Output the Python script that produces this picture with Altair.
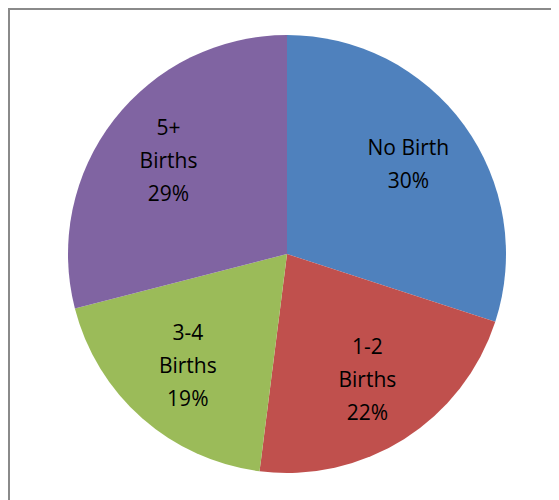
import altair as alt
import pandas as pd

categories = ["No Birth", "1-2 Births", "3-4 Births", "5+ Births"]
percents = [30, 22, 19, 29]
label_lines = [["No Birth", "30%"], ["1-2", "Births", "22%"], ["3-4", "Births", "19%"], ["5+", "Births", "29%"]]
colors = ["#4F81BD", "#C0504D", "#9BBB59", "#8064A2"]

df = pd.DataFrame({
    "category": categories,
    "value": percents,
    "order": list(range(len(categories))),
    "label": ["\n".join(l) for l in label_lines],
    "nlines": [len(l) for l in label_lines],
})
total = sum(percents)

W, H = 543, 492
CX, CY = 279, 246
R = 219
LH = 33

pie = alt.Chart(df).mark_arc(stroke=None).encode(
    theta=alt.Theta("value:Q", stack=True),
    order=alt.Order("order:Q"),
    color=alt.Color("category:N", scale=alt.Scale(domain=categories, range=colors), legend=None),
    x=alt.value(CX), y=alt.value(CY), radius=alt.value(R),
)

label_base = alt.Chart(df).transform_window(
    cum="sum(value)", sort=[alt.SortField("order")], frame=[None, 0]
).transform_calculate(
    mid="datum.cum - datum.value / 2"
)

def label_layer(n):
    return label_base.transform_filter(alt.datum.nlines == n).mark_text(
        font="Open Sans", fontSize=21, color="#000000", lineBreak="\n", lineHeight=LH,
        align="center", baseline="middle", dy=-(n - 1) * LH / 2,
    ).encode(
        theta=alt.Theta("mid:Q", scale=alt.Scale(domain=[0, total]), stack=None),
        text="label:N",
        x=alt.value(CX), y=alt.value(CY), radius=alt.value(150),
    )

border_df = pd.DataFrame({"k": [0]})
left_rule = alt.Chart(border_df).mark_rule(color="#8a8a8a", strokeWidth=2).encode(
    x=alt.value(1), y=alt.value(0), y2=alt.value(H)
)
top_rule = alt.Chart(border_df).mark_rule(color="#8a8a8a", strokeWidth=2).encode(
    y=alt.value(1), x=alt.value(0), x2=alt.value(W)
)

chart = alt.layer(pie, label_layer(2), label_layer(3), left_rule, top_rule).properties(
    width=W, height=H, padding=0,
    autosize=alt.AutoSizeParams(type="none"),
).configure_view(stroke=None).configure(background="white")

chart.save("out.html", embed_options={"renderer": "svg", "actions": False})
